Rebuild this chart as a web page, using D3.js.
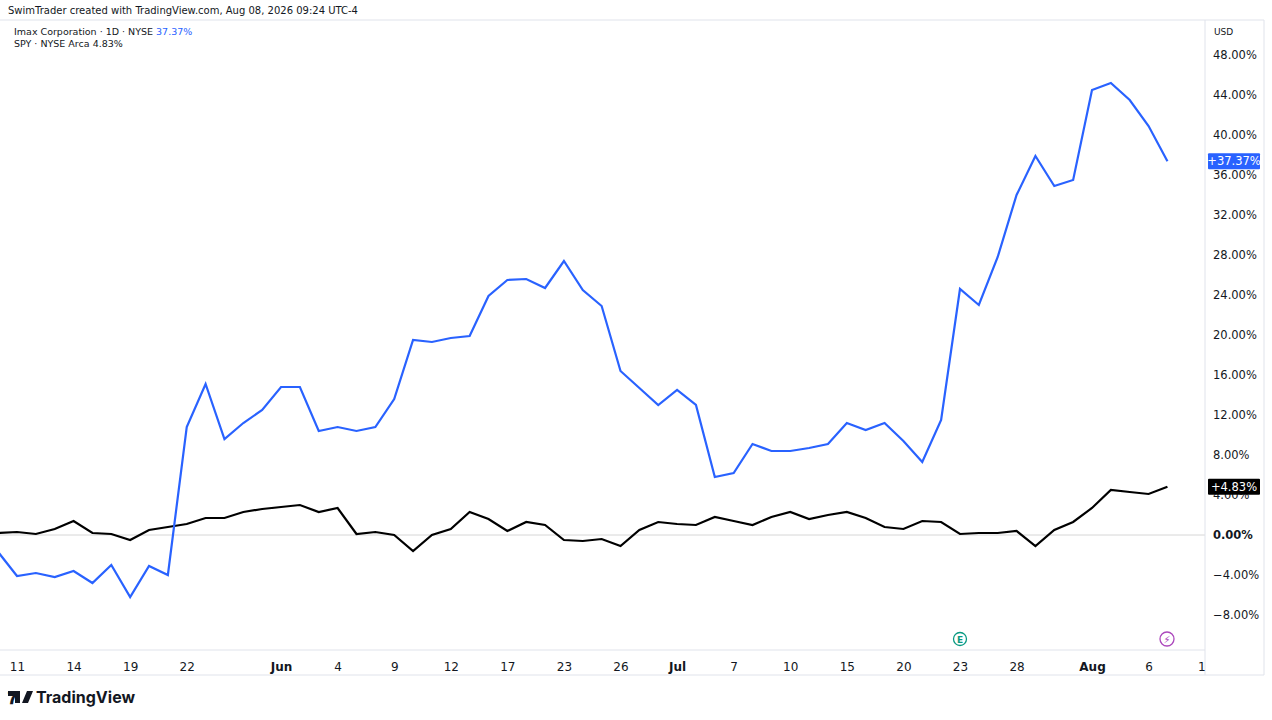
<!DOCTYPE html>
<html><head><meta charset="utf-8">
<script src="https://cdn.jsdelivr.net/npm/d3@7"></script>
<style>body{margin:0;background:#fff;font-family:"DejaVu Sans",sans-serif}</style>
</head><body><svg id="c" width="1272" height="720"></svg>
<script>
const startIndex = -1;
const imax = [-1.7,-4.1,-3.8,-4.2,-3.6,-4.8,-3.0,-6.2,-3.1,-4.0,10.8,15.1,9.6,11.2,12.5,14.8,14.8,10.4,10.8,10.4,10.8,13.6,19.5,19.3,19.7,19.9,23.9,25.5,25.6,24.7,27.4,24.5,22.9,16.4,14.7,13.0,14.5,13.0,5.8,6.2,9.1,8.4,8.4,8.7,9.1,11.2,10.5,11.2,9.4,7.3,11.5,24.6,23.0,27.8,34.0,37.9,34.9,35.5,44.5,45.2,43.5,40.9,37.37];
const spy = [0.2,0.3,0.1,0.6,1.4,0.2,0.1,-0.5,0.5,0.8,1.1,1.7,1.7,2.3,2.6,2.8,3.0,2.3,2.7,0.1,0.3,0.0,-1.6,0.0,0.6,2.3,1.6,0.4,1.3,1.0,-0.5,-0.6,-0.4,-1.1,0.5,1.3,1.1,1.0,1.8,1.4,1.0,1.8,2.3,1.6,2.0,2.3,1.7,0.8,0.6,1.4,1.3,0.1,0.2,0.2,0.4,-1.1,0.5,1.3,2.7,4.5,4.3,4.1,4.83];
const xTicks = [[0,"11"],[3,"14"],[6,"19"],[9,"22"],[14,"Jun"],[17,"4"],[20,"9"],[23,"12"],[26,"17"],[29,"23"],[32,"26"],[35,"Jul"],[38,"7"],[41,"10"],[44,"15"],[47,"20"],[50,"23"],[53,"28"],[57,"Aug"],[60,"6"],[62.8,"1"]];
const yTicks = [-8,-4,0,4,8,12,16,20,24,28,32,36,40,44,48];

const svg = d3.select("#c");
const R = 1205, B = 650;
const x = d3.scaleLinear().domain([0,57]).range([17,1092]);
const y = d3.scaleLinear().domain([0,48]).range([535,55]);
const clip = svg.append("clipPath").attr("id","cp").append("rect").attr("x",0).attr("y",20).attr("width",R).attr("height",B-20);
svg.append("line").attr("x1",0).attr("x2",R).attr("y1",y(0)).attr("y2",y(0)).attr("stroke","#d6d6d6");
svg.append("line").attr("x1",R).attr("x2",R).attr("y1",20).attr("y2",B+25).attr("stroke","#e0e3eb");
svg.append("line").attr("x1",0).attr("x2",R).attr("y1",B).attr("y2",B).attr("stroke","#e0e3eb");
svg.append("line").attr("x1",1264).attr("x2",1264).attr("y1",20).attr("y2",B+25).attr("stroke","#e0e3eb");
svg.append("line").attr("x1",0).attr("x2",1264).attr("y1",20).attr("y2",20).attr("stroke","#e0e3eb");
svg.append("line").attr("x1",0).attr("x2",1264).attr("y1",B+25).attr("y2",B+25).attr("stroke","#e0e3eb");

const line = d3.line().x((d,i)=>x(i+startIndex)).y(d=>y(d));
const g = svg.append("g").attr("clip-path","url(#cp)");
g.append("path").datum(spy).attr("d",line).attr("fill","none").attr("stroke","#000").attr("stroke-width",2.2);
g.append("path").datum(imax).attr("d",line).attr("fill","none").attr("stroke","#2962ff").attr("stroke-width",2.2);

const ya = svg.append("g").attr("transform",`translate(${R},0)`)
 .call(d3.axisRight(y).tickValues(yTicks).tickSize(0).tickPadding(8).tickFormat(d=>(d<0?"\u2212"+(-d).toFixed(2):d.toFixed(2))+"%"));
ya.select(".domain").remove();
ya.selectAll("text").attr("font-size",11.5).attr("fill","#131722").attr("font-family","DejaVu Sans").attr("font-weight",d=>d===0?"bold":null);
svg.append("text").attr("x",1214).attr("y",35).text("USD").attr("font-size",9).attr("fill","#131722");

const xa = svg.append("g").attr("transform",`translate(0,${B})`)
 .call(d3.axisBottom(x).tickValues(xTicks.map(t=>t[0])).tickSize(0).tickPadding(12).tickFormat((d,i)=>xTicks[i][1]));
xa.select(".domain").remove();
xa.selectAll("text").attr("font-size",12).attr("fill","#131722").attr("font-family","DejaVu Sans")
 .attr("font-weight",(d,i)=>isNaN(+xTicks[i][1])?"bold":null);

function badge(v,col,label){
 const yy=y(v);
 svg.append("rect").attr("x",1208).attr("y",yy-8).attr("width",52).attr("height",16).attr("fill",col).attr("rx",1);
 svg.append("text").attr("x",1234).attr("y",yy+4).attr("text-anchor","middle").attr("font-size",11.5).attr("fill","#fff").text(label);
}
badge(imax[imax.length-1],"#2962ff","+37.37%");
badge(spy[spy.length-1],"#000","+4.83%");

svg.append("text").attr("x",8).attr("y",14).attr("font-size",10).attr("fill","#131722").text("SwimTrader created with TradingView.com, Aug 08, 2026 09:24 UTC-4");
const l1=svg.append("text").attr("x",14).attr("y",35).attr("font-size",9.5).attr("fill","#131722");
l1.append("tspan").text("Imax Corporation · 1D · NYSE  ");
l1.append("tspan").attr("fill","#2962ff").text("37.37%");
svg.append("text").attr("x",14).attr("y",47).attr("font-size",9.5).attr("fill","#131722").text("SPY · NYSE Arca  4.83%");

// event icons
svg.append("circle").attr("cx",960).attr("cy",639).attr("r",6.5).attr("fill","#fff").attr("stroke","#089981").attr("stroke-width",1.3);
svg.append("text").attr("x",960).attr("y",643).attr("text-anchor","middle").attr("font-size",9).attr("fill","#089981").attr("font-weight","bold").text("E");
svg.append("circle").attr("cx",1167).attr("cy",639).attr("r",7).attr("fill","#fff").attr("stroke","#ab47bc").attr("stroke-width",1.3);
svg.append("text").attr("x",1167).attr("y",643).attr("text-anchor","middle").attr("font-size",10).attr("fill","#ab47bc").text("⚡");

// logo
svg.append("text").attr("x",8).attr("y",704).attr("font-size",17).attr("font-weight","bold").attr("fill","#131722").text("𝟕");
svg.append("path").attr("d","M8,691 h12 v12 h-5 v-7 h-7z M22,703 l5,-12 h6 l-5,12z").attr("fill","#131722");
svg.append("text").attr("x",36).attr("y",703).attr("font-size",16).attr("font-weight","bold").attr("fill","#131722").attr("font-family","Inter, DejaVu Sans").text("TradingView");
</script></body></html>
